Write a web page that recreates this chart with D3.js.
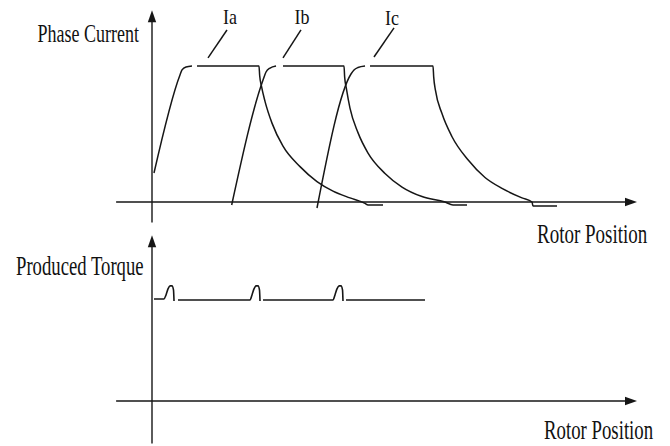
<!DOCTYPE html>
<html>
<head>
<meta charset="utf-8">
<script src="https://cdn.jsdelivr.net/npm/d3@7"></script>
<style>
  html, body { margin: 0; padding: 0; background: #fff; }
  svg { display: block; }
  text { font-family: "Liberation Serif", "Times New Roman", serif; fill: #111; }
</style>
</head>
<body>
<svg id="chart" width="670" height="446"></svg>
<script>
// Rotor position is in arbitrary units (0 at the vertical axis);
// phase current is normalised to the flat-top (chopped) level,
// produced torque to its average level.

const phaseNames = ["Ia", "Ib", "Ic"];

// Turn-on ramp of each phase, ending in a rounded corner just below the flat top
const riseIa = [[0.41, 0.213], [5.77, 0.934], [6.19, 0.971], [7.01, 0.993], [8.25, 1.0]];
const riseIb = [[16.43, -0.022], [22.89, 0.897], [23.51, 0.956], [24.33, 0.985], [25.57, 1.0]];
const riseIc = [[34.02, -0.044], [41.03, 0.941], [41.65, 0.971], [42.47, 0.989], [43.92, 1.0]];

// Flat top, turn-off and decay of each phase current
const fallIa = [[9.28, 1.0], [22.06, 1.0], [22.20, 0.93], [22.58, 0.85], [23.30, 0.74], [24.74, 0.58],
  [27.01, 0.41], [30.52, 0.26], [34.02, 0.15], [37.32, 0.08], [40.82, 0.03], [43.92, -0.01],
  [44.54, -0.022], [47.63, -0.022]];
const fallIb = [[27.01, 1.0], [39.59, 1.0], [39.72, 0.92], [40.10, 0.83], [40.82, 0.69], [42.47, 0.51],
  [44.54, 0.36], [48.04, 0.21], [51.55, 0.11], [55.67, 0.04], [60.41, 0.0], [62.06, -0.022],
  [64.95, -0.022]];
const fallIc = [[44.95, 1.0], [57.94, 1.0], [58.08, 0.92], [58.45, 0.82], [59.79, 0.65], [61.86, 0.48],
  [65.15, 0.31], [68.66, 0.18], [72.16, 0.10], [76.29, 0.03], [78.35, 0.0], [78.56, -0.03],
  [83.51, -0.03]];

// Label anchor (text centre, baseline) and leader line ends for each phase
const labelPos = [[16.08, 1.309], [30.93, 1.309], [49.48, 1.300]];
const leaderTop = [[15.46, 1.265], [30.72, 1.265], [49.90, 1.280]];
const leaderBottom = [[11.55, 1.06], [27.01, 1.06], [45.77, 1.066]];

// Produced torque: flat level with a small overshoot at each commutation
const torqueSegments = [
  [[0.41, 1.01], [2.47, 1.01], [2.89, 1.05], [3.30, 1.11], [3.71, 1.14], [4.12, 1.14], [4.43, 1.10], [4.54, 0.99]],
  [[5.36, 1.0], [20.21, 1.0], [20.62, 1.05], [21.03, 1.11], [21.44, 1.14], [21.86, 1.14], [22.16, 1.10], [22.27, 0.99]],
  [[22.89, 1.0], [37.32, 1.0], [37.73, 1.05], [38.14, 1.11], [38.56, 1.14], [38.97, 1.14], [39.28, 1.10], [39.38, 0.99]],
  [[40.0, 1.0], [56.29, 1.0]]
];

const axisTitles = { current: "Phase Current", torque: "Produced Torque", position: "Rotor Position" };

// ---------------------------------------------------------------------------

const svg = d3.select("#chart");
const ink = "#161616";

const x = d3.scaleLinear().domain([0, 100]).range([152, 637]);
const yCur = d3.scaleLinear().domain([0, 1]).range([202, 66]);
const yTq = d3.scaleLinear().domain([0, 1]).range([401, 300]);

// axis extents in data units
const xAxisFrom = -7.4, xAxisTo = 100;
const curFrom = -0.15, curTo = 1.41;
const tqFrom = -0.42, tqTo = 1.64;

function arrowLine(x1, y1, x2, y2) {
  svg.append("line")
    .attr("x1", x1).attr("y1", y1).attr("x2", x2).attr("y2", y2)
    .attr("stroke", ink).attr("stroke-width", 1.4);
}
function arrowHead(tx, ty, dir) {
  // dir: "up" or "right"
  const L = 12, W = 4.2;
  const pts = dir === "up"
    ? [[tx, ty], [tx - W, ty + L], [tx + W, ty + L]]
    : [[tx, ty], [tx - L, ty - W], [tx - L, ty + W]];
  svg.append("path").attr("d", "M" + pts.map(p => p.join(",")).join("L") + "Z").attr("fill", ink);
}

// Phase-current axes
arrowLine(x(0), yCur(curFrom), x(0), yCur(curTo) + 6);
arrowHead(x(0), yCur(curTo), "up");
arrowLine(x(xAxisFrom), yCur(0), x(xAxisTo) - 6, yCur(0));
arrowHead(x(xAxisTo), yCur(0), "right");

// Torque axes
arrowLine(x(0), yTq(tqFrom), x(0), yTq(tqTo) + 6);
arrowHead(x(0), yTq(tqTo), "up");
arrowLine(x(xAxisFrom), yTq(0), x(xAxisTo) - 6, yTq(0));
arrowHead(x(xAxisTo), yTq(0), "right");

// Phase currents
const curLine = d3.line().x(d => x(d[0])).y(d => yCur(d[1])).curve(d3.curveMonotoneX);
const rises = [riseIa, riseIb, riseIc];
const falls = [fallIa, fallIb, fallIc];
const gCur = svg.append("g").attr("fill", "none").attr("stroke", ink).attr("stroke-width", 1.5)
  .attr("stroke-linejoin", "round");
rises.forEach(r => gCur.append("path").attr("d", curLine(r)));
falls.forEach(f => gCur.append("path").attr("d", curLine(f)));

// Phase labels with leader lines
phaseNames.forEach((name, i) => {
  svg.append("line")
    .attr("x1", x(leaderBottom[i][0])).attr("y1", yCur(leaderBottom[i][1]))
    .attr("x2", x(leaderTop[i][0])).attr("y2", yCur(leaderTop[i][1]))
    .attr("stroke", ink).attr("stroke-width", 1.5);
  svg.append("g")
    .attr("transform", `translate(${x(labelPos[i][0])},${yCur(labelPos[i][1])}) scale(1,1.15)`)
    .append("text").attr("text-anchor", "middle").attr("font-size", 18).text(name);
});

// Produced torque
const tqLine = d3.line().x(d => x(d[0])).y(d => yTq(d[1])).curve(d3.curveMonotoneX);
const gTq = svg.append("g").attr("fill", "none").attr("stroke", ink).attr("stroke-width", 1.6)
  .attr("stroke-linejoin", "round");
torqueSegments.forEach(s => gTq.append("path").attr("d", tqLine(s)));

// Axis titles (tall, narrow serif lettering)
function title(str, px, py, anchor, size) {
  svg.append("g").attr("transform", `translate(${px},${py}) scale(1,1.45)`)
    .append("text").attr("text-anchor", anchor).attr("font-size", size).text(str);
}
title(axisTitles.current, 139, 42, "end", 18);
title(axisTitles.position, 537, 243, "start", 19);
title(axisTitles.torque, 16, 275, "start", 18.7);
title(axisTitles.position, 544, 439, "start", 18.8);
</script>
</body>
</html>
